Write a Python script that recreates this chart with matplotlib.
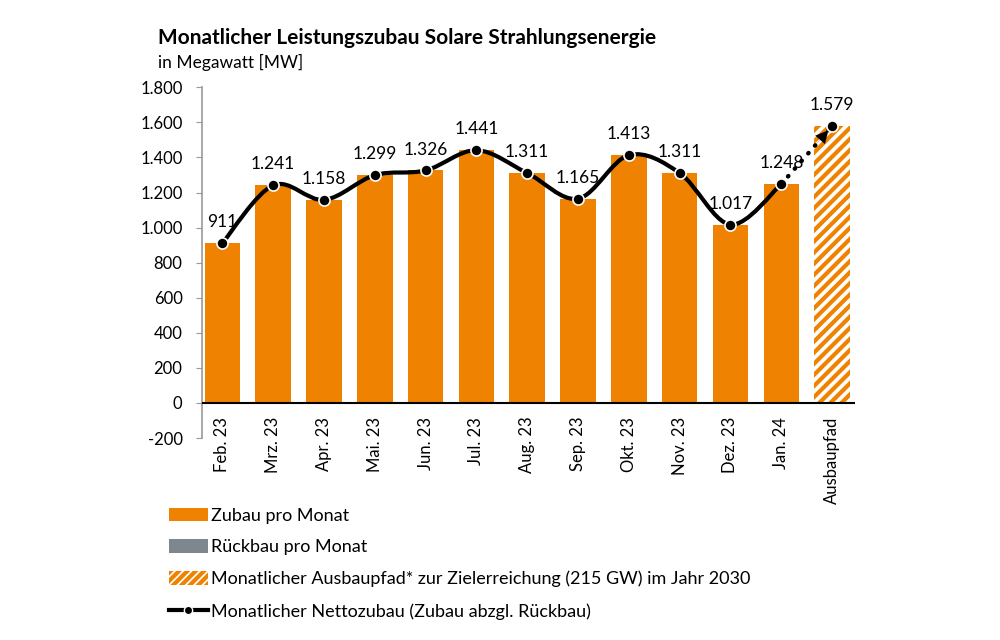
import numpy as np
import matplotlib
matplotlib.use("Agg")
import matplotlib.pyplot as plt
from matplotlib.path import Path
from matplotlib.patches import PathPatch, Patch
from matplotlib.lines import Line2D
from matplotlib.ticker import FuncFormatter
import matplotlib.transforms as mtrans

plt.rcParams['font.family'] = ['Lato', 'DejaVu Sans']
plt.rcParams['hatch.linewidth'] = 3.0

# data (MW)
months = ['Feb. 23', 'Mrz. 23', 'Apr. 23', 'Mai. 23', 'Jun. 23', 'Jul. 23',
          'Aug. 23', 'Sep. 23', 'Okt. 23', 'Nov. 23', 'Dez. 23', 'Jan. 24']
zubau = [911, 1241, 1158, 1299, 1326, 1441, 1311, 1165, 1413, 1311, 1017, 1248]
target_label = 'Ausbaupfad'
target_value = 1579
yticks = [-200, 0, 200, 400, 600, 800, 1000, 1200, 1400, 1600, 1800]

orange = '#EF8200'
grey = '#7E878D'


def fmt(v):
    return f'{v:,.0f}'.replace(',', '.')


def smooth_path(xs, ys):
    # Excel-like smoothed line (Catmull-Rom as cubic Bezier)
    p = np.column_stack([xs, ys]).astype(float)
    ext = np.vstack([p[0], p, p[-1]])
    verts = [p[0]]
    codes = [Path.MOVETO]
    for i in range(len(p) - 1):
        a, b, c, d = ext[i], ext[i + 1], ext[i + 2], ext[i + 3]
        verts += [b + (c - a) / 6, c - (d - b) / 6, c]
        codes += [Path.CURVE4] * 3
    return Path(verts, codes)


fig = plt.figure(figsize=(10, 6.4), dpi=100)
ax = fig.add_axes([0.202, 0.3156, 0.653, 0.548])

x = np.arange(len(months))
ax.bar(x, zubau, width=0.7, color=orange, zorder=2)
xt = len(months)
ax.bar([xt], [target_value], width=0.7, facecolor='white', edgecolor=orange,
       hatch='///', linewidth=0, zorder=2)

# net line
ax.add_patch(PathPatch(smooth_path(x, zubau), facecolor='none', edgecolor='black',
                       lw=3, zorder=4, capstyle='round'))
# dotted extension to target
ax.plot([x[-1], xt], [zubau[-1], target_value], color='black', lw=3.2,
        linestyle=(0, (0.1, 2.2)), dash_capstyle='round', zorder=4)
fx = x[-1] + 0.7 * (xt - x[-1])
fy = zubau[-1] + 0.7 * (target_value - zubau[-1])
ax.annotate('', xy=(xt, target_value), xytext=(fx, fy),
            arrowprops=dict(arrowstyle='-|>,head_length=0.9,head_width=0.45',
                            color='black', lw=0.1, shrinkA=0, shrinkB=4), zorder=5)
ax.plot(x, zubau, 'o', color='black', markersize=8, markeredgecolor='white',
        markeredgewidth=1.2, zorder=6)
ax.plot([xt], [target_value], 'o', color='black', markersize=8,
        markeredgecolor='white', markeredgewidth=1.2, zorder=6)

for xi, v in zip(list(x) + [xt], zubau + [target_value]):
    ax.annotate(fmt(v), (xi, v), xytext=(0, 15), textcoords='offset points',
                ha='center', va='center', fontsize=12.5, zorder=7)

ax.axhline(0, color='black', lw=1.5, zorder=3)
ax.set_ylim(-200, 1800)
ax.set_xlim(-0.4, xt + 0.45)
ax.set_yticks(yticks)
ax.yaxis.set_major_formatter(FuncFormatter(lambda v, _: fmt(v)))
ax.tick_params(axis='y', labelsize=12, direction='out', length=4, color='#999999', pad=10)
ax.set_xticks([])
for s in ['top', 'right', 'bottom']:
    ax.spines[s].set_visible(False)
ax.spines['left'].set_color('#999999')
ax.spines['left'].set_linewidth(1.2)

# category labels hanging from the zero line
trans = mtrans.offset_copy(ax.transData, fig=fig, x=0, y=-10, units='points')
for xi, lab in zip(list(x) + [xt], months + [target_label]):
    ax.text(xi, 0, lab, transform=trans, rotation=90, ha='center', va='top', fontsize=12)

fig.text(0.158, 0.94, 'Monatlicher Leistungszubau Solare Strahlungsenergie',
         fontsize=15, fontweight='bold', va='center')
fig.text(0.158, 0.902, 'in Megawatt [MW]', fontsize=12.5, va='center')

handles = [Patch(facecolor=orange, edgecolor='none'),
           Patch(facecolor=grey, edgecolor='none'),
           Patch(facecolor='white', edgecolor=orange, hatch='////', linewidth=0),
           Line2D([], [], color='black', lw=3, marker='o', markersize=6,
                  markeredgecolor='white')]
labels = ['Zubau pro Monat', 'Rückbau pro Monat',
          'Monatlicher Ausbaupfad* zur Zielerreichung (215 GW) im Jahr 2030',
          'Monatlicher Nettozubau (Zubau abzgl. Rückbau)']
fig.legend(handles, labels, loc='upper left', bbox_to_anchor=(0.169, 0.207),
           frameon=False, fontsize=13, handlelength=2.15, handleheight=0.8,
           handletextpad=0.2, labelspacing=0.86, borderaxespad=0, borderpad=0)

fig.savefig('out.png', dpi=100)
